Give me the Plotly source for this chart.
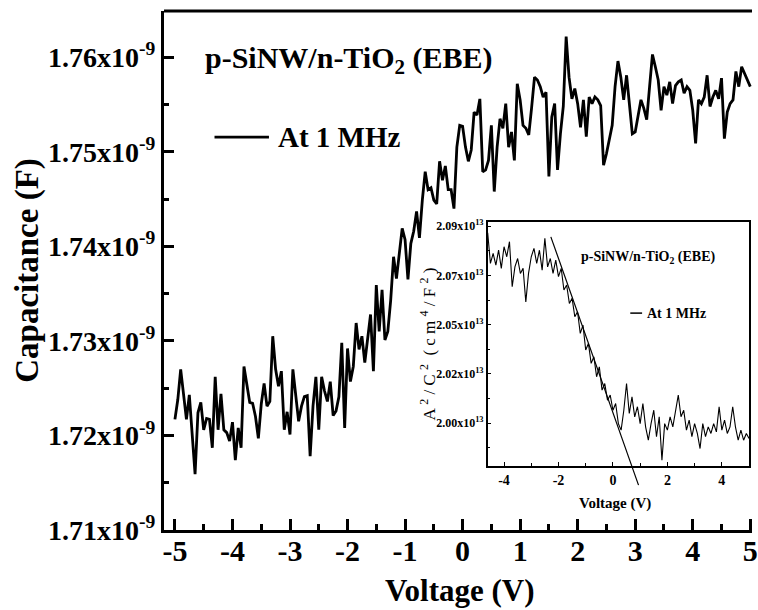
import plotly.graph_objects as go

FONT = "Liberation Serif"

# ---------------- main C-V data (capacitance in units of 1e-9 F) ----------------
voltage = [round(-5 + 0.05 * i, 2) for i in range(201)]
capacitance_e9 = [
    1.7217, 1.7238, 1.7270, 1.7241, 1.7217, 1.7243, 1.7203, 1.7159, 1.7224, 1.7235,
    1.7206, 1.7218, 1.7217, 1.7187, 1.7262, 1.7206, 1.7244, 1.7206, 1.7203, 1.7194,
    1.7214, 1.7174, 1.7208, 1.7187, 1.7273, 1.7252, 1.7235, 1.7234, 1.7220, 1.7197,
    1.7233, 1.7255, 1.7231, 1.7236, 1.7305, 1.7270, 1.7252, 1.7268, 1.7206, 1.7225,
    1.7201, 1.7270, 1.7245, 1.7215, 1.7231, 1.7241, 1.7242, 1.7178, 1.7231, 1.7262,
    1.7206, 1.7262, 1.7247, 1.7236, 1.7257, 1.7221, 1.7226, 1.7241, 1.7298, 1.7208,
    1.7292, 1.7257, 1.7273, 1.7319, 1.7291, 1.7305, 1.7277, 1.7301, 1.7328, 1.7268,
    1.7359, 1.7310, 1.7354, 1.7301, 1.7310, 1.7343, 1.7389, 1.7366, 1.7396, 1.7419,
    1.7407, 1.7365, 1.7403, 1.7416, 1.7437, 1.7409, 1.7449, 1.7479, 1.7460, 1.7462,
    1.7449, 1.7445, 1.7490, 1.7470, 1.7485, 1.7460, 1.7460, 1.7440, 1.7505, 1.7528,
    1.7527, 1.7505, 1.7490, 1.7502, 1.7542, 1.7539, 1.7556, 1.7479, 1.7481, 1.7491,
    1.7528, 1.7458, 1.7505, 1.7535, 1.7525, 1.7551, 1.7505, 1.7521, 1.7491, 1.7572,
    1.7555, 1.7528, 1.7525, 1.7518, 1.7547, 1.7579, 1.7576, 1.7569, 1.7558, 1.7563,
    1.7474, 1.7537, 1.7551, 1.7481, 1.7519, 1.7548, 1.7622, 1.7579, 1.7556, 1.7567,
    1.7551, 1.7526, 1.7555, 1.7516, 1.7558, 1.7551, 1.7558, 1.7555, 1.7549, 1.7486,
    1.7498, 1.7512, 1.7528, 1.7569, 1.7596, 1.7579, 1.7555, 1.7581, 1.7548, 1.7519,
    1.7521, 1.7537, 1.7555, 1.7546, 1.7534, 1.7569, 1.7603, 1.7590, 1.7576, 1.7544,
    1.7569, 1.7560, 1.7574, 1.7551, 1.7570, 1.7574, 1.7576, 1.7562, 1.7569, 1.7565,
    1.7544, 1.7509, 1.7555, 1.7551, 1.7558, 1.7581, 1.7548, 1.7558, 1.7565, 1.7556,
    1.7578, 1.7514, 1.7542, 1.7551, 1.7555, 1.7585, 1.7569, 1.7590, 1.7583, 1.7576,
    1.7569,
]

# ---------------- inset Mott-Schottky data (A^2/C^2 in units of 1e13) ----------------
inset_voltage = [round(-4.6 + 0.1 * k, 1) for k in range(97)]
inset_a2c2_e13 = [
    2.0870, 2.0730, 2.0775, 2.0722, 2.0790, 2.0707, 2.0806, 2.0760, 2.0829, 2.0623,
    2.0714, 2.0752, 2.0684, 2.0707, 2.0554, 2.0684, 2.0760, 2.0798, 2.0730, 2.0790,
    2.0699, 2.0844, 2.0714, 2.0752, 2.0684, 2.0745, 2.0669, 2.0707, 2.0608, 2.0631,
    2.0547, 2.0570, 2.0486, 2.0509, 2.0410, 2.0448, 2.0334, 2.0364, 2.0273, 2.0303,
    2.0212, 2.0257, 2.0151, 2.0181, 2.0105, 2.0128, 2.0059, 2.0090, 1.9998, 1.9968,
    2.0059, 2.0181, 2.0044, 2.0120, 2.0029, 2.0075, 1.9998, 2.0090, 1.9983, 1.9922,
    1.9998, 2.0059, 1.9938, 2.0029, 1.9831, 1.9998, 1.9968, 2.0029, 1.9983, 2.0059,
    2.0128, 2.0029, 2.0059, 1.9968, 2.0014, 1.9938, 1.9998, 1.9953, 1.9884, 1.9998,
    1.9938, 1.9983, 1.9953, 1.9998, 1.9960, 2.0075, 1.9968, 2.0014, 1.9953, 1.9983,
    2.0075, 1.9983, 1.9922, 1.9968, 1.9922, 1.9953, 1.9930,
]
fit_voltage = [-2.28, 0.94]
fit_a2c2_e13 = [2.0851, 1.9717]

# ---------------- ticks ----------------
main_x_ticks = [-5, -4, -3, -2, -1, 0, 1, 2, 3, 4, 5]
main_y_ticks = [1.71, 1.72, 1.73, 1.74, 1.75, 1.76]
main_y_labels = ["1.71", "1.72", "1.73", "1.74", "1.75", "1.76"]
main_y_minor = [1.715, 1.725, 1.735, 1.745, 1.755]
inset_x_ticks = [-4, -2, 0, 2, 4]
inset_y_ticks = [2.0, 2.0225, 2.045, 2.0675, 2.09]
inset_y_labels = ["2.00", "2.02", "2.05", "2.07", "2.09"]
inset_y_minor = [1.98875, 2.01125, 2.03375, 2.05625, 2.07875]

X_RANGE = [-5.19, 5.03]
Y_RANGE = [1.71, 1.7649]
IX_RANGE = [-4.6, 5.0]
IY_RANGE = [1.9804, 2.0918]

fig = go.Figure()
fig.add_trace(go.Scatter(x=voltage, y=capacitance_e9, mode="lines",
                         line=dict(color="black", width=2.8), xaxis="x", yaxis="y",
                         hoverinfo="skip"))
fig.add_trace(go.Scatter(x=inset_voltage, y=inset_a2c2_e13, mode="lines",
                         line=dict(color="black", width=1.1), xaxis="x2", yaxis="y2",
                         hoverinfo="skip"))

bold = dict(family=FONT, color="black", weight="bold")

fig.update_layout(
    width=758, height=610,
    margin=dict(l=164, r=0, t=11, b=80),
    plot_bgcolor="white", paper_bgcolor="white",
    showlegend=False,
    font=dict(family=FONT, color="black"),
    xaxis=dict(
        domain=[0, 1], range=X_RANGE, anchor="y",
        tickmode="array", tickvals=main_x_ticks, ticktext=[str(v) for v in main_x_ticks],
        ticks="inside", ticklen=11, tickwidth=2.5, tickcolor="black",
        showline=True, linewidth=3, linecolor="black",
        showgrid=False, zeroline=False, ticklabeloverflow="allow",
        ticklabelstandoff=-8,
        tickfont=dict(size=30, **bold),
        minor=dict(ticks="inside", ticklen=6, tickwidth=2.5, tickcolor="black",
                   tickvals=[v + 0.5 for v in main_x_ticks[:-1]], showgrid=False),
    ),
    yaxis=dict(
        domain=[0, 1], range=Y_RANGE, anchor="x",
        tickmode="array", tickvals=main_y_ticks,
        ticktext=[f"{s}x10<sup>-9</sup>" for s in main_y_labels],
        ticks="inside", ticklen=10, tickwidth=2.5, tickcolor="black",
        showline=True, linewidth=3, linecolor="black",
        showgrid=False, zeroline=False,
        tickfont=dict(size=28, **bold),
        minor=dict(ticks="inside", ticklen=5, tickwidth=2.5, tickcolor="black",
                   tickvals=main_y_minor, showgrid=False),
    ),
    xaxis2=dict(
        domain=[0.5505, 0.995], range=IX_RANGE, anchor="y2",
        tickmode="array", tickvals=inset_x_ticks, ticktext=[str(v) for v in inset_x_ticks],
        ticks="inside", ticklen=4, tickwidth=1.2, tickcolor="black",
        showline=True, linewidth=1.5, linecolor="black", mirror=True,
        showgrid=False, zeroline=False,
        tickfont=dict(size=14, **bold),
        minor=dict(ticks="inside", ticklen=3, tickwidth=1.2, tickcolor="black",
                   tickvals=[-3, -1, 1, 3], showgrid=False),
    ),
    yaxis2=dict(
        domain=[0.1232, 0.5931], range=IY_RANGE, anchor="x2",
        tickmode="array", tickvals=inset_y_ticks,
        ticktext=[f"{s}x10<sup>13</sup>" for s in inset_y_labels],
        ticks="inside", ticklen=4, tickwidth=1.2, tickcolor="black",
        showline=True, linewidth=1.5, linecolor="black", mirror=True,
        showgrid=False, zeroline=False,
        tickfont=dict(size=12, **bold),
        minor=dict(ticks="inside", ticklen=3, tickwidth=1.2, tickcolor="black",
                   tickvals=inset_y_minor, showgrid=False),
    ),
)

# fit line on inset (allowed to run past the bottom spine, as in the original)
span = IY_RANGE[1] - IY_RANGE[0]
fig.add_shape(type="line", xref="x2", yref="y2 domain",
              x0=fit_voltage[0], x1=fit_voltage[1],
              y0=(fit_a2c2_e13[0] - IY_RANGE[0]) / span,
              y1=(fit_a2c2_e13[1] - IY_RANGE[0]) / span,
              line=dict(color="black", width=1.2))

# top border of main frame
fig.add_shape(type="line", xref="paper", yref="paper", x0=0, x1=1, y0=1, y1=1,
              line=dict(color="black", width=3))

# legend sample lines
fig.add_shape(type="line", xref="paper", yref="paper", x0=0.0859, x1=0.1785,
              y0=0.7568, y1=0.7568, line=dict(color="black", width=2.8))
fig.add_shape(type="line", xref="paper", yref="paper", x0=0.793, x1=0.8131,
              y0=0.4179, y1=0.4179, line=dict(color="black", width=1.5))

ann = [
    dict(text="p-SiNW/n-TiO<sub>2</sub> (EBE)", x=0.0657, y=0.905, xanchor="left",
         yanchor="middle", font=dict(size=30, **bold)),
    dict(text="At 1 MHz", x=0.1902, y=0.7568, xanchor="left", yanchor="middle",
         font=dict(size=29, **bold)),
    dict(text="Voltage (V)", x=0.5034, y=-0.116, xanchor="center", yanchor="middle",
         font=dict(size=31, **bold)),
    dict(text="Capacitance (F)", x=-0.232, y=0.5007, xanchor="center", yanchor="middle",
         textangle=-90, font=dict(size=33, **bold)),
    dict(text="p-SiNW/n-TiO<sub>2</sub> (EBE)", x=0.7054, y=0.5257, xanchor="left",
         yanchor="middle", font=dict(size=14, **bold)),
    dict(text="At 1 MHz", x=0.818, y=0.4179, xanchor="left", yanchor="middle",
         font=dict(size=14, **bold)),
    dict(text="Voltage (V)", x=0.7677, y=0.052, xanchor="center", yanchor="middle",
         font=dict(size=15, **bold)),
    dict(text="A <sup>2</sup> / C <sup>2</sup>  ( c m <sup>4</sup> / F <sup>2</sup> )",
         x=0.4495, y=0.3582, xanchor="center", yanchor="middle", textangle=-90,
         font=dict(size=17, family=FONT, color="black")),
]
for a in ann:
    a.update(xref="paper", yref="paper", showarrow=False)
    fig.add_annotation(**a)

fig.write_html("out.html")
